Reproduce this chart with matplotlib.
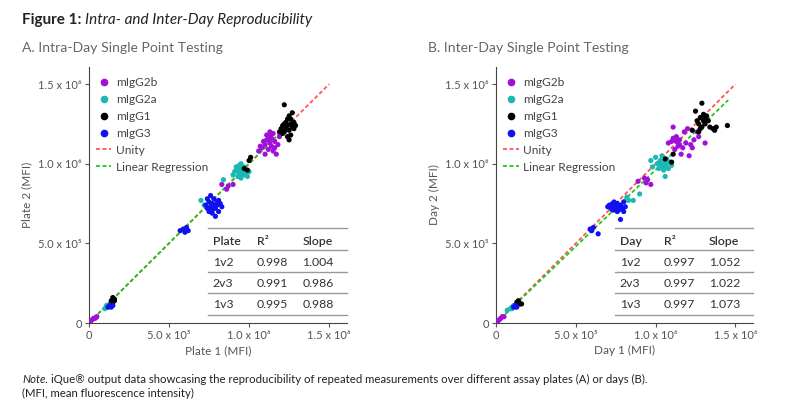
import matplotlib
matplotlib.use("Agg")
import matplotlib.pyplot as plt
from matplotlib.lines import Line2D
import numpy as np

plt.rcParams['font.family'] = ['Lato', 'DejaVu Sans']

# ---- data (values in millions of MFI) ----
series_names = ['mIgG2b', 'mIgG2a', 'mIgG1', 'mIgG3']
series_colors = ['#a010d8', '#1cb8b4', '#000000', '#1010f0']

# Panel A: Plate 1 vs Plate 2
a_g2b_x = [0.01, 0.02, 0.03, 0.04, 0.05, 0.045, 0.83, 0.86, 0.87, 0.90,
           1.06, 1.08, 1.09, 1.10, 1.10, 1.11, 1.12, 1.12, 1.13, 1.13, 1.14, 1.14,
           1.15, 1.15, 1.16, 1.17, 1.18, 1.19, 1.11, 1.07, 1.13, 1.16]
a_g2b_y = [0.01, 0.02, 0.03, 0.03, 0.04, 0.035, 0.87, 0.84, 0.86, 0.87,
           1.08, 1.10, 1.14, 1.06, 1.12, 1.18, 1.09, 1.15, 1.13, 1.20, 1.11, 1.16,
           1.08, 1.19, 1.14, 1.06, 1.12, 1.17, 1.15, 1.11, 1.17, 1.10]
a_g2a_x = [0.10, 0.11, 0.12, 0.13, 0.12, 0.14, 0.11, 0.70, 0.72, 0.84,
           0.90, 0.91, 0.92, 0.93, 0.93, 0.94, 0.94, 0.95, 0.95, 0.96, 0.96, 0.97,
           0.98, 0.98, 0.99, 1.00, 0.92, 0.95, 0.97]
a_g2a_y = [0.09, 0.10, 0.11, 0.12, 0.10, 0.13, 0.11, 0.77, 0.74, 0.90,
           0.93, 0.95, 0.98, 0.92, 0.96, 0.99, 0.94, 0.91, 0.97, 0.95, 0.93, 0.98,
           0.94, 0.96, 0.92, 0.95, 0.96, 1.00, 0.93]
a_g1_x = [0.14, 0.15, 0.16, 0.15, 0.16, 0.97, 1.00, 1.01, 0.99,
          1.19, 1.20, 1.21, 1.22, 1.22, 1.23, 1.23, 1.24, 1.24, 1.25, 1.25, 1.26,
          1.26, 1.27, 1.27, 1.28, 1.28, 1.25, 1.21, 1.24, 1.26, 1.22, 1.29]
a_g1_y = [0.14, 0.16, 0.14, 0.13, 0.15, 0.97, 1.02, 1.04, 0.96,
          1.20, 1.22, 1.24, 1.37, 1.20, 1.26, 1.22, 1.28, 1.24, 1.21, 1.30, 1.25,
          1.18, 1.32, 1.23, 1.26, 1.22, 1.15, 1.19, 1.17, 1.28, 1.25, 1.24]
a_g3_x = [0.12, 0.13, 0.14, 0.15, 0.57, 0.59, 0.60, 0.61, 0.62,
          0.73, 0.74, 0.75, 0.75, 0.76, 0.76, 0.77, 0.77, 0.78, 0.78, 0.79, 0.79,
          0.80, 0.80, 0.81, 0.81, 0.82, 0.83, 0.74, 0.77]
a_g3_y = [0.10, 0.11, 0.10, 0.11, 0.58, 0.59, 0.57, 0.60, 0.58,
          0.74, 0.72, 0.76, 0.70, 0.73, 0.80, 0.75, 0.71, 0.74, 0.78, 0.67, 0.72,
          0.76, 0.74, 0.70, 0.77, 0.75, 0.73, 0.78, 0.69]

# Panel B: Day 1 vs Day 2
b_g2b_x = [0.01, 0.02, 0.03, 0.04, 0.05, 0.89, 0.93, 0.95, 0.97, 0.94,
           1.08, 1.10, 1.11, 1.11, 1.12, 1.13, 1.13, 1.15, 1.15, 1.17, 1.18, 1.19,
           1.20, 1.21, 1.22, 1.23, 1.24, 1.26, 1.27, 1.31, 1.14, 1.16]
b_g2b_y = [0.01, 0.02, 0.03, 0.04, 0.04, 0.89, 0.91, 0.90, 0.87, 0.88,
           1.13, 1.14, 1.23, 1.16, 1.09, 1.14, 1.17, 1.12, 1.15, 1.10, 1.20, 1.13,
           1.22, 1.05, 1.12, 1.10, 1.15, 1.20, 1.17, 1.13, 1.11, 1.06]
b_g2a_x = [0.07, 0.09, 0.10, 0.11, 0.12, 0.13, 0.10, 0.82, 0.86, 0.90, 0.83,
           0.97, 0.98, 1.00, 1.01, 1.02, 1.03, 1.04, 1.04, 1.05, 1.05, 1.06, 1.06,
           1.07, 1.07, 1.08, 1.09, 1.10, 1.03, 1.05]
b_g2a_y = [0.08, 0.09, 0.10, 0.11, 0.10, 0.11, 0.09, 0.79, 0.77, 0.81, 0.77,
           1.02, 0.98, 1.04, 1.00, 0.97, 1.02, 0.99, 1.05, 0.96, 1.01, 0.98, 0.92,
           1.03, 1.00, 0.97, 1.01, 0.99, 1.00, 0.98]
b_g1_x = [0.13, 0.14, 0.15, 0.16, 0.14, 1.11, 1.10, 1.06,
          1.23, 1.25, 1.26, 1.27, 1.28, 1.29, 1.29, 1.30, 1.30, 1.31, 1.32, 1.33,
          1.34, 1.36, 1.37, 1.38, 1.45, 1.27, 1.31, 1.28]
b_g1_y = [0.13, 0.14, 0.12, 0.12, 0.12, 1.06, 1.01, 1.03,
          1.21, 1.33, 1.27, 1.25, 1.29, 1.38, 1.23, 1.31, 1.27, 1.25, 1.30, 1.27,
          1.23, 1.22, 1.21, 1.23, 1.24, 1.20, 1.29, 1.22]
b_g3_x = [0.11, 0.12, 0.13, 0.59, 0.60, 0.61, 0.64,
          0.70, 0.71, 0.72, 0.73, 0.73, 0.74, 0.74, 0.75, 0.75, 0.76, 0.76, 0.77,
          0.77, 0.78, 0.78, 0.79, 0.80, 0.80, 0.81, 0.72, 0.74]
b_g3_y = [0.10, 0.11, 0.10, 0.59, 0.58, 0.60, 0.56,
          0.73, 0.74, 0.72, 0.75, 0.71, 0.73, 0.76, 0.72, 0.74, 0.70, 0.75, 0.73,
          0.71, 0.65, 0.74, 0.72, 0.76, 0.70, 0.73, 0.74, 0.71]

# unity and regression lines: [x_start, x_end] and slope
unity_x = [0, 1.5]
a_reg_x = [0, 1.28]
a_reg_slope = 1.0
b_reg_x = [0, 1.455]
b_reg_slope = 0.962

# inset tables
a_table = [['Plate', 'R\u00b2', 'Slope'],
           ['1v2', '0.998', '1.004'],
           ['2v3', '0.991', '0.986'],
           ['1v3', '0.995', '0.988']]
b_table = [['Day', 'R\u00b2', 'Slope'],
           ['1v2', '0.997', '1.052'],
           ['2v3', '0.997', '1.022'],
           ['1v3', '0.997', '1.073']]

tick_vals = [0, 0.5e6, 1.0e6, 1.5e6]
tick_labels = ['0', '5.0 x 10\u2075', '1.0 x 10\u2076', '1.5 x 10\u2076']

GREY = '#555555'
M = 1e6
RED = '#ff5555'
GREEN = '#1ec81e'
DASH = (0, (2.2, 1.4))


def draw_panel(ax, groups, reg_x, reg_slope, table, xlabel, ylabel, table_left):
    for (gx, gy), name, col in zip(groups, series_names, series_colors):
        ax.scatter(np.array(gx) * M, np.array(gy) * M, s=14, color=col,
                   edgecolors='none', zorder=3, label=name)
    ux = np.array(unity_x) * M
    ax.plot(ux, ux, color=RED, ls=DASH, lw=1.3, zorder=2)
    rx = np.array(reg_x) * M
    ax.plot(rx, rx * reg_slope, color=GREEN, ls=DASH, lw=1.3, zorder=2)

    ax.set_xlim(0, 1.61e6)
    ax.set_ylim(0, 1.607e6)
    ax.set_xticks(tick_vals)
    ax.set_xticklabels(tick_labels)
    ax.set_yticks(tick_vals)
    ax.set_yticklabels(tick_labels)
    ax.tick_params(labelsize=8, colors=GREY, length=3, width=0.8, pad=2)
    for s in ['top', 'right']:
        ax.spines[s].set_visible(False)
    for s in ['left', 'bottom']:
        ax.spines[s].set_color('#444444')
        ax.spines[s].set_linewidth(0.8)
    ax.set_xlabel(xlabel, fontsize=8.5, color=GREY, labelpad=3)
    ax.set_ylabel(ylabel, fontsize=8.5, color=GREY, labelpad=4)

    handles = [Line2D([], [], marker='o', ls='none', color=c, markersize=4.5)
               for c in series_colors]
    handles += [Line2D([], [], color=RED, ls=DASH, lw=1.3),
                Line2D([], [], color=GREEN, ls=DASH, lw=1.3)]
    labels = series_names + ['Unity', 'Linear Regression']
    leg = ax.legend(handles, labels, loc='upper left', bbox_to_anchor=(0.0, 0.99),
                    frameon=False, fontsize=8.6, handlelength=1.3, handletextpad=0.4,
                    labelspacing=0.5, borderaxespad=0.2)
    for t in leg.get_texts():
        t.set_color('#444444')

    # inset table
    line_y = [0.371, 0.285, 0.199, 0.117, 0.031]
    text_y = [0.318, 0.238, 0.156, 0.072]
    col_x = [table_left + 0.018, table_left + 0.19, table_left + 0.365]
    for y in line_y:
        ax.plot([table_left, 1.0], [y, y], transform=ax.transAxes,
                color='#999999', lw=1.0, clip_on=False, zorder=4)
    for r, row in enumerate(table):
        for c, val in enumerate(row):
            ax.text(col_x[c], text_y[r], val, transform=ax.transAxes,
                    fontsize=8.8, color='#333333', va='center', ha='left',
                    fontweight='semibold' if r == 0 else 'normal')


fig = plt.figure(figsize=(8, 4.19), dpi=100)
ax_a = fig.add_axes([0.111, 0.229, 0.3225, 0.611])
ax_b = fig.add_axes([0.620, 0.229, 0.3212, 0.611])

draw_panel(ax_a, [(a_g2b_x, a_g2b_y), (a_g2a_x, a_g2a_y), (a_g1_x, a_g1_y), (a_g3_x, a_g3_y)],
           a_reg_x, a_reg_slope, a_table, 'Plate 1 (MFI)', 'Plate 2 (MFI)', 0.462)
draw_panel(ax_b, [(b_g2b_x, b_g2b_y), (b_g2a_x, b_g2a_y), (b_g1_x, b_g1_y), (b_g3_x, b_g3_y)],
           b_reg_x, b_reg_slope, b_table, 'Day 1 (MFI)', 'Day 2 (MFI)', 0.463)

# titles
t1 = fig.text(0.0275, 0.952, 'Figure 1:', fontsize=11, fontweight='bold',
              color='#222222', va='center')
renderer = fig.canvas.get_renderer()
bb = t1.get_window_extent(renderer=renderer)
fig.text(bb.x1 / fig.bbox.width + 0.005, 0.952, 'Intra- and Inter-Day Reproducibility',
         fontsize=11, fontstyle='italic', color='#222222', va='center')
fig.text(0.0275, 0.886, 'A. Intra-Day Single Point Testing', fontsize=10.1,
         color='#666666', va='center')
fig.text(0.535, 0.886, 'B. Inter-Day Single Point Testing', fontsize=10.1,
         color='#666666', va='center')

# note
n1 = fig.text(0.0275, 0.095, 'Note.', fontsize=8.2, fontstyle='italic',
              color='#222222', va='center')
bb = n1.get_window_extent(renderer=renderer)
fig.text(bb.x1 / fig.bbox.width + 0.003, 0.095,
         'iQue\u00ae output data showcasing the reproducibility of repeated measurements '
         'over different assay plates (A) or days (B).',
         fontsize=8.2, color='#222222', va='center')
fig.text(0.0275, 0.062, '(MFI, mean fluorescence intensity)', fontsize=8.2,
         color='#222222', va='center')

fig.savefig('out.png', dpi=100)
